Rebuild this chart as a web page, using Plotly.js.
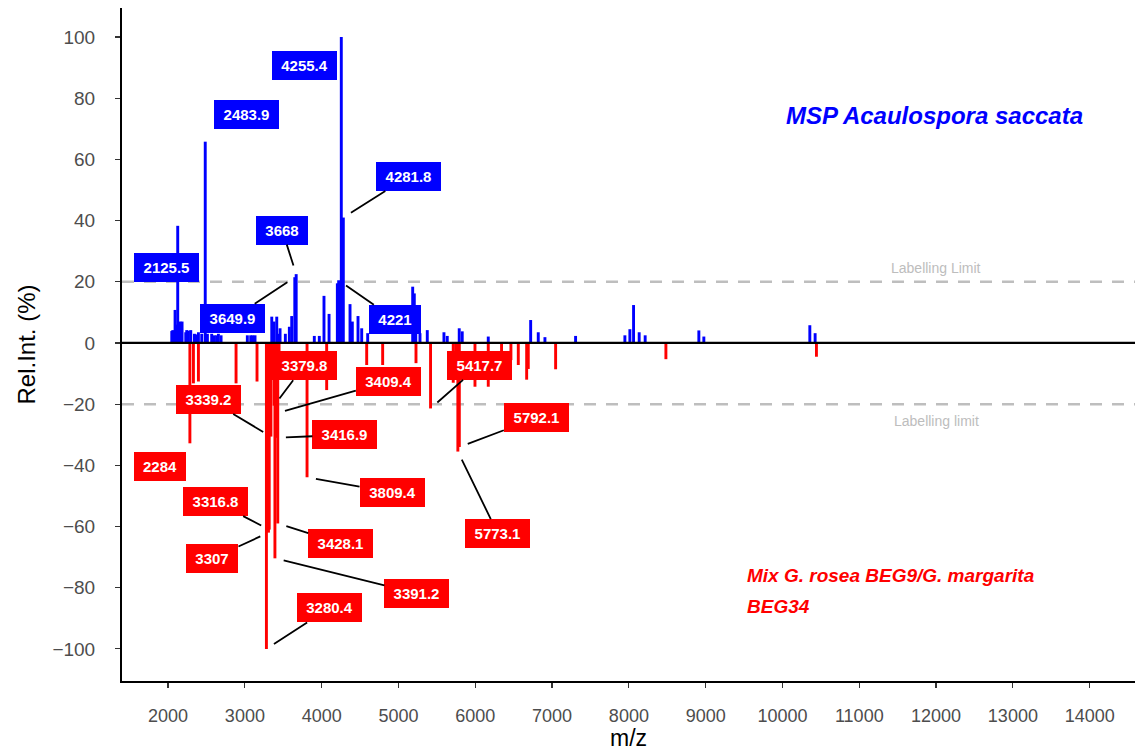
<!DOCTYPE html>
<html>
<head>
<meta charset="utf-8">
<script src="https://cdn.plot.ly/plotly-3.0.1.min.js"></script>
<style>
  html, body { margin: 0; padding: 0; background: #ffffff; }
  #chart { width: 1137px; height: 751px; }
</style>
</head>
<body>
<div id="chart"></div>
<script>
// ---- Data: MSP Acaulospora saccata (positive, blue) ----
const blueMz = [2048, 2061, 2091, 2110, 2125.5, 2156, 2182, 2230, 2243, 2265, 2295, 2343, 2364, 2395, 2438,
  2483.9, 2512, 2568, 2603, 2634, 2655, 2690, 3032, 3076, 3102, 3132, 3350, 3380, 3415, 3445, 3458, 3527,
  3579, 3610, 3649.9, 3668, 3904, 3969, 4030, 4096, 4204, 4221, 4255.4, 4281.8, 4369, 4399, 4473, 4521,
  4599, 5185, 5206, 5225, 5280, 5375, 5592, 5635, 5791, 5830, 6169, 6721, 6820, 6907, 7306, 7948, 8013,
  8061, 8134, 8212, 8911, 8976, 10356, 10425];
const blueInt = [3.9, 4.2, 10.8, 6, 38.3, 7, 7, 3.5, 4.2, 4, 4.2, 3, 2.8, 3.5, 3,
  65.8, 3, 3, 2.5, 2.5, 3, 2.5, 2.5, 2.5, 2.5, 2.5, 8.6, 7, 8.6, 3, 4.8, 3,
  5.3, 8.8, 21.5, 22.5, 2.3, 2.3, 15.4, 9.5, 19.5, 20.5, 100, 41, 12.7, 7, 8.8, 4.8,
  3.2, 18.4, 16.2, 3.2, 3.2, 4.2, 3.5, 2.3, 4.8, 3.8, 2.1, 7.5, 3.5, 1.9, 2.3, 2.5, 4.5,
  12.4, 3.5, 2.5, 4.1, 2.1, 5.8, 3.2];

// ---- Data: Mix G. rosea BEG9 / G. margarita BEG34 (negative, red) ----
const redMz = [2284, 2330, 2395, 2885, 3158, 3280.4, 3295, 3307, 3316.8, 3339.2, 3360, 3379.8, 3391.2,
  3409.4, 3416.9, 3428.1, 3445, 3809.4, 4065, 4586, 4794, 5228, 5417.7, 5713, 5745, 5773.1, 5792.1,
  5996, 6169, 6342, 6464, 6560, 6669, 6690, 7046, 8482, 10442];
const redInt = [-32.8, -13.2, -12.6, -13.2, -12.6, -100, -9, -62, -61, -30.6, -10, -20.5, -70.4,
  -23, -31, -59, -6, -43.9, -15.4, -7.2, -7.2, -6.6, -21.4, -13, -9, -35.5, -34,
  -14.3, -14.3, -4, -5.6, -7.2, -12, -8.5, -8.6, -5.3, -4.5];

// ---- Labelled peaks (above the labelling limit) ----
const blueLabels = ['2125.5', '2483.9', '3649.9', '3668', '4221', '4255.4', '4281.8'];
const redLabels = ['2284', '3280.4', '3307', '3316.8', '3339.2', '3379.8', '3391.2', '3409.4',
  '3416.9', '3428.1', '3809.4', '5417.7', '5773.1', '5792.1'];

const xTicks = [2000, 3000, 4000, 5000, 6000, 7000, 8000, 9000, 10000, 11000, 12000, 13000, 14000];
const yTicks = [-100, -80, -60, -40, -20, 0, 20, 40, 60, 80, 100];
const labelLimit = 20;

// ---- Label placement (pixel offsets of label centre from the peak top) & segment visibility ----
const blueLabelPos = [[-11, 42, 0], [41, -27, 0], [-62, 41, 1], [-14, -44, 1], [56, 39, 1], [-37, 28, 0], [65, -41, 1]];
const redLabelPos = [[-30, 23, 0], [63, -41, 1], [-56, 26, 1], [-54, -28, 1], [-62, -37, 1], [30, -40, 1],
  [142, 35, 1], [112, -32, 1], [68, -3, 1], [63, 20, 1], [85, 15, 1], [49, -43, 1], [40, 82, 1], [77, -29, 1]];

const BLUE = '#0000ff';
const RED = '#ff0000';
const FONT = 'Liberation Sans, Arial, Helvetica, sans-serif';

function textW(s, size) {
  let w = 0;
  for (const c of s) w += (c === '.') ? 0.278 : 0.556;
  return w * size;
}

function makeLabels(labels, mzArr, intArr, pos, color) {
  return labels.map((lab, i) => {
    const idx = mzArr.indexOf(parseFloat(lab));
    const p = pos[i];
    return {
      x: mzArr[idx], y: intArr[idx], xref: 'x', yref: 'y',
      text: '<b>' + lab + '</b>',
      showarrow: true, arrowhead: 0, arrowwidth: 1.8,
      arrowcolor: p[2] ? '#000000' : 'rgba(0,0,0,0)',
      standoff: 9,
      ax: p[0], ay: p[1],
      bgcolor: color, bordercolor: color, borderwidth: 0, borderpad: 4.5,
      width: Math.round(textW(lab, 15)) + 10, height: 20,
      font: { family: FONT, size: 15, color: '#ffffff' },
      align: 'center', valign: 'middle'
    };
  });
}

const traces = [
  { type: 'bar', x: blueMz, y: blueInt, width: 38, marker: { color: BLUE, line: { width: 0 } },
    name: 'MSP Acaulospora saccata', hoverinfo: 'x+y' },
  { type: 'bar', x: redMz, y: redInt, width: 38, marker: { color: RED, line: { width: 0 } },
    name: 'Mix', hoverinfo: 'x+y' }
];

const annotations = [
  ...makeLabels(blueLabels, blueMz, blueInt, blueLabelPos, BLUE),
  ...makeLabels(redLabels, redMz, redInt, redLabelPos, RED),
  { x: 13935, y: 74.5, xref: 'x', yref: 'y', xanchor: 'right', yanchor: 'middle', showarrow: false,
    text: '<b><i>MSP Acaulospora saccata</i></b>', font: { family: FONT, size: 24, color: BLUE } },
  { x: 9510, y: -76, xref: 'x', yref: 'y', xanchor: 'left', yanchor: 'middle', showarrow: false,
    text: '<b><i>Mix G. rosea BEG9/G. margarita</i></b>', font: { family: FONT, size: 19, color: RED } },
  { x: 9510, y: -86, xref: 'x', yref: 'y', xanchor: 'left', yanchor: 'middle', showarrow: false,
    text: '<b><i>BEG34</i></b>', font: { family: FONT, size: 19, color: RED } },
  { x: 12000, y: labelLimit + 4.5, xref: 'x', yref: 'y', showarrow: false,
    text: 'Labelling Limit', font: { family: FONT, size: 14, color: '#bdbdbd' } },
  { x: 12000, y: -labelLimit - 5.5, xref: 'x', yref: 'y', showarrow: false,
    text: 'Labelling limit', font: { family: FONT, size: 14, color: '#bdbdbd' } }
];

const shapes = [
  { type: 'line', xref: 'paper', yref: 'y', x0: 0, x1: 1, y0: labelLimit, y1: labelLimit, layer: 'below',
    line: { color: '#bebebe', width: 2.5, dash: '12px,10px' } },
  { type: 'line', xref: 'paper', yref: 'y', x0: 0, x1: 1, y0: -labelLimit, y1: -labelLimit, layer: 'below',
    line: { color: '#bebebe', width: 2.5, dash: '12px,10px' } },
  { type: 'line', xref: 'paper', yref: 'y', x0: 0, x1: 1, y0: 0, y1: 0, layer: 'above',
    line: { color: '#000000', width: 2.2 } }
];

const layout = {
  width: 1137, height: 751,
  margin: { l: 122, r: 2, t: 8, b: 70 },
  paper_bgcolor: '#ffffff', plot_bgcolor: '#ffffff',
  showlegend: false,
  barmode: 'overlay',
  font: { family: FONT },
  xaxis: {
    range: [1400, 14590], tickvals: xTicks, ticktext: xTicks.map(String),
    showgrid: false, zeroline: false, showline: true, linecolor: '#000000', linewidth: 2,
    ticks: 'outside', ticklen: 5, tickwidth: 1.2, tickcolor: '#333333',
    tickfont: { family: FONT, size: 18, color: '#4d4d4d' },
    ticklabelstandoff: 12,
    title: { text: 'm/z', font: { family: FONT, size: 23, color: '#000000' }, standoff: 7 }
  },
  yaxis: {
    range: [-110.5, 109.5], tickvals: yTicks,
    showgrid: false, zeroline: false, showline: true, linecolor: '#000000', linewidth: 2,
    ticks: 'outside', ticklen: 5, tickwidth: 1.2, tickcolor: '#333333',
    tickfont: { family: FONT, size: 19, color: '#4d4d4d' },
    ticklabelstandoff: 16,
    title: { text: 'Rel.Int. (%)', font: { family: FONT, size: 24, color: '#000000' }, standoff: 10 }
  },
  annotations: annotations,
  shapes: shapes
};

Plotly.newPlot('chart', traces, layout, { displayModeBar: false, staticPlot: true });
</script>
</body>
</html>
